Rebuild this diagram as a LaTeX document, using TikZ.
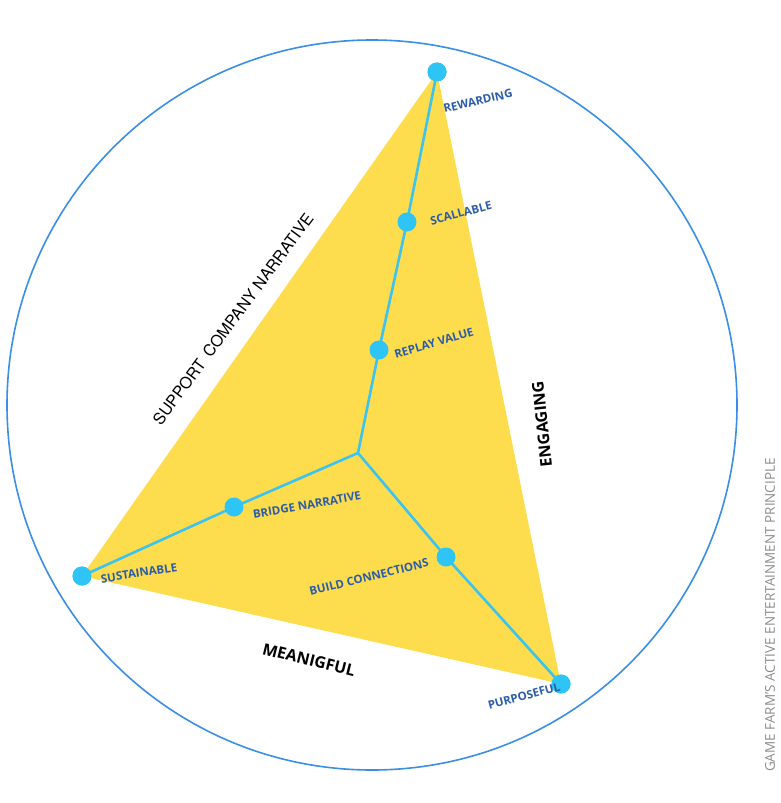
\documentclass[tikz,border=0pt]{standalone}
\usepackage{fontspec}
\setmainfont{Open Sans}
\newfontfamily\helv{TeX Gyre Heros}
\usetikzlibrary{positioning}
\definecolor{ringblue}{HTML}{3A8EE6}
\definecolor{spokeblue}{HTML}{3CC3F0}
\definecolor{dotblue}{HTML}{2EC4F5}
\definecolor{lblblue}{HTML}{2A5CAA}
\definecolor{tri}{HTML}{FDDD4E}
\definecolor{capgray}{HTML}{8C8C8C}
\begin{document}
\begin{tikzpicture}[
    x=1pt, y=-1pt,
    dot/.style={circle, fill=dotblue, inner sep=0pt, minimum size=19pt},
    spoke/.style={draw=spokeblue, line width=2.6pt},
    lbl/.style={font=\bfseries\fontsize{11.5}{13}\selectfont, text=lblblue, inner sep=0pt},
    sidelbl/.style={font=\bfseries\fontsize{16}{18}\selectfont, text=black, inner sep=0pt}
]
    \useasboundingbox (0,0) rectangle (780,803);

    % Outer ring
    \draw[ringblue, line width=1.6pt] (372,405) circle[radius=365];

    % Triangle corners and inner points
    \coordinate (hub) at (358,453);
    \node (reward) at (437,72) [dot] {};
    \node (scal) at (407,222) [dot] {};
    \node (replay) at (379,350) [dot] {};
    \node (bridge) at (234,507) [dot] {};
    \node (sustain) at (82,576) [dot] {};
    \node (build) at (446,557) [dot] {};
    \node (purpose) at (561,684) [dot] {};

    \fill[tri] (reward.center) -- (purpose.center) -- (sustain.center) -- cycle;

    % Spokes
    \draw[spoke] (hub) -- (replay.center) -- (scal.center) -- (reward.center);
    \draw[spoke] (hub) -- (bridge.center) -- (sustain.center);
    \draw[spoke] (hub) -- (build.center) -- (purpose.center);

    % Dots on top
    \foreach \p in {reward, scal, replay, bridge, sustain, build, purpose}
        \fill[dotblue] (\p.center) circle[radius=9.5];

    % Point labels
    \node (lreward) at (478,101) [lbl, rotate=13] {REWARDING};
    \node (lscal) at (461,213) [lbl, rotate=15] {SCALLABLE};
    \node (lreplay) at (434,343) [lbl, rotate=16] {REPLAY VALUE};
    \node (lbridge) at (307,505) [lbl, rotate=10] {BRIDGE NARRATIVE};
    \node (lsustain) at (139,573) [lbl, rotate=9] {SUSTAINABLE};
    \node (lbuild) at (369,577) [lbl, rotate=14] {BUILD CONNECTIONS};
    \node (lpurpose) at (524,696) [lbl, rotate=15] {PURPOSEFUL};

    % Side labels
    \node (meaning) at (309,660) [sidelbl, rotate=-14] {MEANIGFUL};
    \node (engage) at (542,424) [sidelbl, rotate=96] {ENGAGING};
    \node (support) at (233,319) [font=\helv\fontsize{16}{18}\selectfont, inner sep=0pt, rotate=53.5] {SUPPORT\, COMPANY NARRATIVE};

    % Caption
    \node (caption) at (770,615) [font=\fontsize{13.5}{15}\selectfont, text=capgray, inner sep=0pt, rotate=90] {GAME FARM'S ACTIVE ENTERTAINMENT PRINCIPLE};
\end{tikzpicture}
\end{document}
